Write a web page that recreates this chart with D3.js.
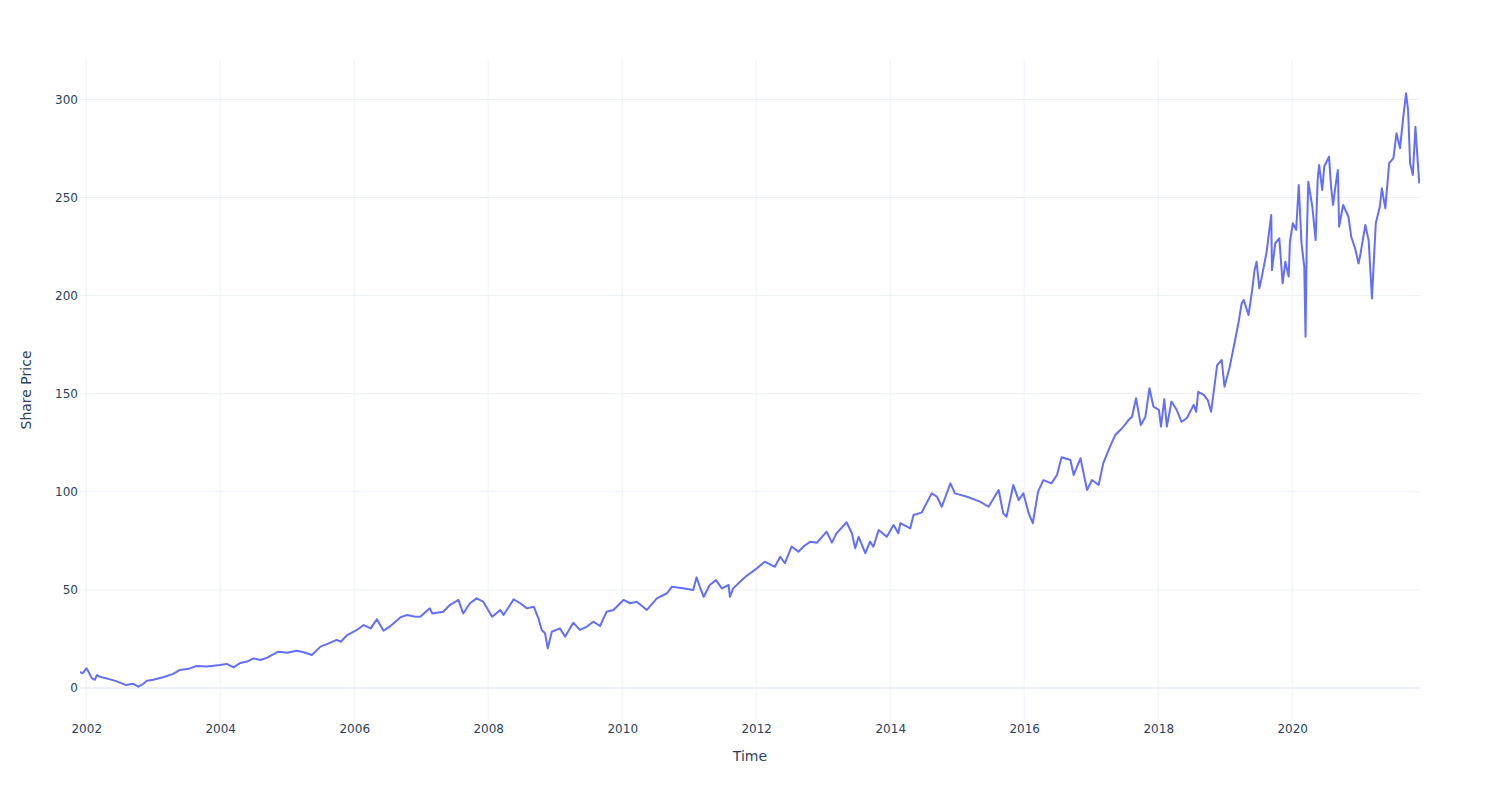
<!DOCTYPE html>
<html>
<head>
<meta charset="utf-8">
<script src="https://cdn.jsdelivr.net/npm/d3@7"></script>
<style>
  html, body { margin: 0; padding: 0; background: #fff; }
  svg { display: block; font-family: "DejaVu Sans", Verdana, sans-serif; }
</style>
</head>
<body>
<svg id="chart" width="1500" height="800"></svg>
<script>
// ---- data ----
const dates = [
"2001-11-28","2001-12-12","2002-01-02","2002-01-12","2002-02-01","2002-02-17","2002-02-28","2002-03-14","2002-04-22","2002-06-13",
"2002-08-07","2002-09-12","2002-10-12","2002-11-06","2002-11-28","2003-01-01","2003-02-24","2003-04-20","2003-05-27","2003-07-20",
"2003-08-25","2003-10-20","2004-01-01","2004-02-06","2004-03-14","2004-04-20","2004-05-27","2004-07-01","2004-08-08","2004-09-13",
"2004-11-13","2005-01-01","2005-02-21","2005-04-01","2005-05-15","2005-07-01","2005-08-08","2005-09-27","2005-10-20","2005-11-24",
"2006-01-15","2006-02-21","2006-04-01","2006-05-04","2006-06-10","2006-07-09","2006-08-04","2006-09-09","2006-10-16","2006-11-24",
"2006-12-27","2007-02-17","2007-03-03","2007-05-01","2007-06-06","2007-07-23","2007-08-18","2007-09-24","2007-10-30","2007-12-05",
"2008-01-23","2008-03-07","2008-03-25","2008-05-19","2008-06-24","2008-07-31","2008-09-06","2008-10-01","2008-10-19","2008-11-06",
"2008-11-21","2008-12-13","2009-01-26","2009-02-24","2009-04-09","2009-05-15","2009-06-21","2009-07-27","2009-09-02","2009-10-08",
"2009-11-14","2010-01-08","2010-02-13","2010-03-21","2010-05-15","2010-07-09","2010-09-02","2010-09-28","2010-11-29","2011-01-23",
"2011-02-10","2011-02-28","2011-03-21","2011-04-23","2011-05-27","2011-06-28","2011-08-04","2011-08-11","2011-08-29","2011-10-05",
"2011-11-07","2012-01-05","2012-02-17","2012-04-12","2012-05-11","2012-06-06","2012-07-12","2012-08-18","2012-09-20","2012-10-23",
"2012-11-28","2013-01-19","2013-02-17","2013-03-14","2013-05-08","2013-06-06","2013-06-24","2013-07-13","2013-08-18","2013-09-13",
"2013-10-01","2013-10-30","2013-12-13","2014-01-19","2014-02-14","2014-02-25","2014-04-20","2014-05-08","2014-06-21","2014-08-15",
"2014-09-13","2014-10-09","2014-11-25","2014-12-20","2015-02-24","2015-05-05","2015-06-21","2015-08-15","2015-09-09","2015-09-27",
"2015-11-03","2015-12-02","2015-12-28","2016-01-26","2016-02-17","2016-03-17","2016-04-15","2016-05-29","2016-06-28","2016-07-23",
"2016-09-09","2016-09-27","2016-11-03","2016-12-09","2017-01-05","2017-02-10","2017-03-07","2017-04-13","2017-05-12","2017-06-18",
"2017-07-23","2017-08-11","2017-09-02","2017-09-28","2017-10-23","2017-11-14","2017-12-06","2018-01-05","2018-01-16","2018-02-03",
"2018-02-17","2018-03-14","2018-04-12","2018-05-08","2018-06-06","2018-07-13","2018-07-27","2018-08-07","2018-09-06","2018-09-28",
"2018-10-16","2018-11-03","2018-11-18","2018-12-13","2018-12-28","2019-01-26","2019-02-24","2019-03-14","2019-04-01","2019-04-12",
"2019-05-08","2019-05-27","2019-06-10","2019-06-21","2019-07-06","2019-07-20","2019-08-15","2019-09-09","2019-09-13","2019-10-01",
"2019-10-23","2019-11-10","2019-11-25","2019-12-13","2019-12-20","2020-01-05","2020-01-23","2020-02-06","2020-02-21","2020-03-07",
"2020-03-14","2020-03-21","2020-03-29","2020-04-20","2020-05-08","2020-05-19","2020-05-27","2020-06-13","2020-06-24","2020-07-20",
"2020-07-31","2020-08-11","2020-08-25","2020-09-06","2020-09-13","2020-10-05","2020-11-03","2020-11-18","2020-12-09","2020-12-28",
"2021-01-08","2021-02-03","2021-02-21","2021-03-11","2021-04-01","2021-04-23","2021-05-04","2021-05-23","2021-06-13","2021-07-06",
"2021-07-23","2021-08-11","2021-08-29","2021-09-13","2021-09-24","2021-10-05","2021-10-20","2021-11-03","2021-11-10","2021-11-24"
];
const prices = [
8.3,7.5,10.0,8.5,4.9,4.2,6.6,5.8,4.9,3.5,
1.5,2.2,0.7,2.0,3.7,4.2,5.5,7.2,9.2,10.0,
11.2,11.0,11.7,12.3,10.5,12.8,13.5,15.1,14.3,15.5,
18.5,18.0,19.0,18.2,16.8,21.1,22.5,24.5,23.6,27.0,
29.6,32.1,30.4,35.0,29.2,31.0,33.0,36.0,37.2,36.5,
36.3,40.6,38.0,38.9,42.3,44.9,38.0,43.2,45.7,44.0,
36.3,39.8,37.2,45.2,43.2,40.6,41.4,35.5,29.6,27.9,
20.2,28.7,30.4,26.2,33.3,29.6,31.2,33.8,31.6,38.9,
39.8,44.9,43.2,44.0,39.8,45.7,48.3,51.6,50.8,50.0,
56.4,51.6,46.5,52.5,55.0,50.8,52.5,46.5,50.8,54.2,
57.0,61.0,64.4,61.8,66.9,63.6,72.1,69.5,72.5,74.6,
74.1,79.7,74.1,78.8,84.5,78.9,71.2,77.1,68.7,74.6,
72.0,80.5,77.1,83.1,78.9,84.0,81.4,88.2,89.4,99.2,
97.5,92.4,104.3,99.2,97.5,95.0,92.4,100.9,89.0,87.3,
103.5,95.8,99.2,89.0,84.0,100.1,106.0,104.3,108.6,117.6,
116.2,108.6,117.1,100.9,106.0,103.5,114.5,123.0,129.0,132.4,
136.6,138.3,147.7,134.0,138.3,152.8,143.4,141.7,133.2,147.2,
133.2,146.0,141.7,135.7,137.5,144.3,140.8,151.0,149.4,146.8,
140.8,153.6,164.6,167.2,153.6,163.8,177.4,185.9,196.1,197.8,
190.1,202.0,213.0,217.3,203.7,209.7,222.4,241.1,213.0,226.7,
229.2,206.3,217.3,209.7,227.5,236.9,233.5,256.4,226.7,214.8,
179.1,230.0,258.1,245.3,228.3,259.0,266.6,253.9,265.8,270.8,
255.5,246.2,256.4,264.0,235.1,246.2,240.2,230.0,224.1,216.4,
221.5,236.0,228.3,198.6,236.9,245.3,254.7,244.5,267.5,270.1,
282.8,275.1,291.2,303.1,294.6,267.5,261.5,286.1,275.9,257.2
];
const yTicks = [0, 50, 100, 150, 200, 250, 300];
const xTickYears = [2002, 2004, 2006, 2008, 2010, 2012, 2014, 2016, 2018, 2020];
const xTitle = "Time";
const yTitle = "Share Price";

// ---- layout ----
const W = 1500, H = 800;
const m = { left: 80, right: 80, top: 60, bottom: 80 };
const parse = d3.timeParse("%Y-%m-%d");
const data = dates.map((d, i) => ({ date: parse(d), value: prices[i] }));

const svg = d3.select("#chart");
const x = d3.scaleTime()
  .domain([parse("2001-11-28"), parse("2021-11-28")])
  .range([m.left, W - m.right]);
const y = d3.scaleLinear()
  .domain([-16.3, 320.1])
  .range([H - m.bottom, m.top]);

const grid = "#ebf0f8";
const textCol = "#2a3f5f";

// vertical grid
const xTicks = xTickYears.map(yr => new Date(yr, 0, 1));
svg.append("g").selectAll("line").data(xTicks).join("line")
  .attr("x1", d => x(d)).attr("x2", d => x(d))
  .attr("y1", m.top).attr("y2", H - m.bottom)
  .attr("stroke", grid).attr("stroke-width", 1);

// horizontal grid
svg.append("g").selectAll("line").data(yTicks.filter(t => t !== 0)).join("line")
  .attr("x1", m.left).attr("x2", W - m.right)
  .attr("y1", d => y(d)).attr("y2", d => y(d))
  .attr("stroke", grid).attr("stroke-width", 1);

// zero line
svg.append("line")
  .attr("x1", m.left).attr("x2", W - m.right)
  .attr("y1", y(0)).attr("y2", y(0))
  .attr("stroke", grid).attr("stroke-width", 2);

// axes (labels only)
const xAxis = d3.axisBottom(x).tickValues(xTicks).tickFormat(d3.timeFormat("%Y")).tickSize(0).tickPadding(4);
const gx = svg.append("g").attr("transform", `translate(0,${H - m.bottom})`).call(xAxis);
gx.select(".domain").remove();
gx.selectAll("text").attr("fill", textCol).style("font-size", "12px").style("font-family", "DejaVu Sans, sans-serif");

const yAxis = d3.axisLeft(y).tickValues(yTicks).tickSize(0).tickPadding(2);
const gy = svg.append("g").attr("transform", `translate(${m.left},0)`).call(yAxis);
gy.select(".domain").remove();
gy.selectAll("text").attr("fill", textCol).style("font-size", "12px").style("font-family", "DejaVu Sans, sans-serif");

// clip
svg.append("clipPath").attr("id", "clip").append("rect")
  .attr("x", m.left).attr("y", m.top).attr("width", W - m.left - m.right).attr("height", H - m.top - m.bottom);

// line
const line = d3.line().x(d => x(d.date)).y(d => y(d.value));
svg.append("path").datum(data)
  .attr("clip-path", "url(#clip)")
  .attr("d", line)
  .attr("fill", "none")
  .attr("stroke", "#636efa")
  .attr("stroke-width", 2)
  .attr("stroke-linejoin", "round");

// titles
svg.append("text").attr("x", (m.left + W - m.right) / 2).attr("y", 761)
  .attr("text-anchor", "middle").attr("fill", textCol).style("font-size", "14px").text(xTitle);
svg.append("text").attr("transform", `translate(31,${(m.top + H - m.bottom) / 2}) rotate(-90)`)
  .attr("text-anchor", "middle").attr("fill", textCol).style("font-size", "14px").text(yTitle);
</script>
</body>
</html>
